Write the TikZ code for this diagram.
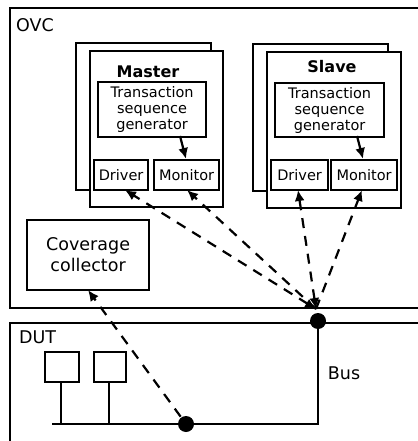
\documentclass[tikz,border=0pt]{standalone}
\usepackage{fontspec}
\setmainfont{DejaVu Sans}
\usetikzlibrary{arrows.meta}
\begin{document}
\begin{tikzpicture}[x=1bp,y=-1bp, line width=2.2bp,
  box/.style={draw, fill=white, inner sep=0pt, anchor=north west, align=center},
  txt/.style={font=\fontsize{14.5bp}{16bp}\selectfont},
  ttl/.style={font=\fontsize{16bp}{18bp}\selectfont\bfseries},
  lbl/.style={font=\fontsize{17.5bp}{20bp}\selectfont, inner sep=0pt},
  tip/.style={-{Latex[length=11bp,width=10bp]}},
  dasharrow/.style={dashed, dash pattern=on 10bp off 8bp, line width=2.2bp, tip},
  dasharrows/.style={dasharrow, {Latex[length=11bp,width=10bp]}-{Latex[length=11bp,width=10bp]}},
  dot/.style={circle, fill=black, inner sep=0pt, minimum size=16bp}]
\useasboundingbox (0,0) rectangle (417,441);
% containers
\node[box, minimum width=425bp, minimum height=300bp] (ovc) at (9,7) {};
\node[lbl, anchor=west] (ovclbl) at (15,25) {OVC};
\node[box, minimum width=425bp, minimum height=130bp] (dut) at (9,322) {};
\node[lbl, anchor=west] (dutlbl) at (18,337) {DUT};
% master
\node[box, minimum width=135bp, minimum height=147bp] (mback) at (75,42) {};
\node[box, minimum width=133bp, minimum height=156bp] (mfront) at (89,50) {};
\node[ttl] (mtitle) at (148,72) {Master};
\node[box, txt, minimum width=108bp, minimum height=55bp] (mtsg) at (97,81) {Transaction\\sequence\\generator};
\node[box, txt, minimum width=54bp, minimum height=30bp] (mdrv) at (93,159) {Driver};
\node[box, txt, minimum width=65bp, minimum height=30bp] (mmon) at (153,159) {Monitor};
% slave
\node[box, minimum width=135bp, minimum height=147bp] (sback) at (252,43) {};
\node[box, minimum width=134bp, minimum height=156bp] (sfront) at (266,51) {};
\node[ttl] (stitle) at (332,67) {Slave};
\node[box, txt, minimum width=109bp, minimum height=54bp] (stsg) at (274,82) {Transaction\\sequence\\generator};
\node[box, txt, minimum width=57bp, minimum height=30bp] (sdrv) at (270,159) {Driver};
\node[box, txt, minimum width=66bp, minimum height=30bp] (smon) at (330,159) {Monitor};
% coverage
\node[box, font=\fontsize{17.5bp}{21bp}\selectfont, minimum width=122bp, minimum height=70bp] (cov) at (26,219) {Coverage\\collector};
% DUT internals
\node[box, minimum width=34bp, minimum height=30bp] (b1) at (44,351) {};
\node[box, minimum width=32bp, minimum height=30bp] (b2) at (93,351) {};
\coordinate (busL) at (52,424);
\coordinate (busC) at (318,424);
\coordinate (b1b) at (61,424);
\coordinate (b2b) at (109,424);
\node[dot] (dtop) at (318,321) {};
\node[dot] (dbot) at (186,424) {};
\draw (busL) -- (busC) -- (dtop.center);
\draw (b1.south -| b1b) -- (b1b);
\draw (b2.south -| b2b) -- (b2b);
\node[lbl] (buslbl) at (344,373) {Bus};
% arrows
\draw[tip] (180,136) -- (mmon.north -| 186,0);
\draw[tip] (357,136) -- (smon.north -| 363,0);
\coordinate (conv) at (316,309);
\draw[dasharrows] (conv) -- (125,190);
\draw[dasharrow] (conv) -- (187,190);
\draw[dasharrows] (conv) -- (298,190);
\draw[dasharrow] (conv) -- (362,190);
\draw[dasharrow] (dbot) -- (88,290);
\end{tikzpicture}
\end{document}
